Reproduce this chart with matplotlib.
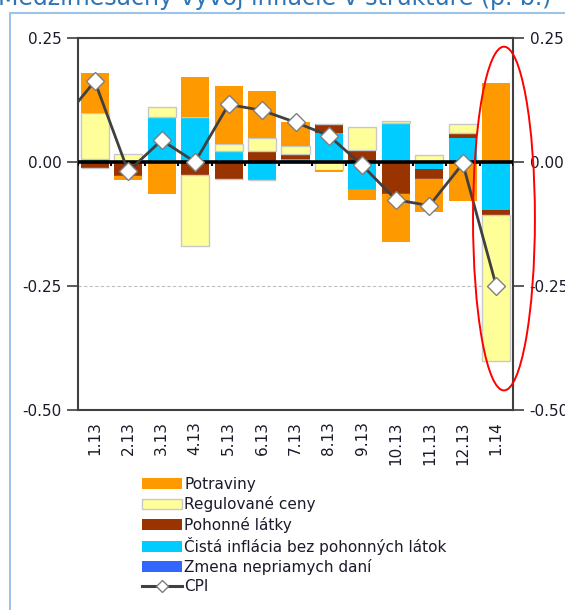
import numpy as np
import matplotlib
matplotlib.use("Agg")
import matplotlib.pyplot as plt
from matplotlib.patches import Ellipse, Rectangle
from matplotlib.lines import Line2D
from matplotlib.patches import Patch

plt.rcParams['font.family'] = ['DejaVu Sans']

months = ["1.13", "2.13", "3.13", "4.13", "5.13", "6.13", "7.13",
          "8.13", "9.13", "10.13", "11.13", "12.13", "1.14"]

# contributions (p. b.)
potraviny = [0.080, -0.008, -0.064, 0.080, 0.116, 0.095, 0.049,
             -0.005, -0.020, -0.098, -0.065, -0.078, 0.159]
regulovane = [0.092, 0.017, 0.019, -0.144, 0.014, 0.025, 0.016,
              -0.016, 0.046, 0.005, 0.014, 0.018, -0.295]
pohonne = [-0.013, -0.028, 0.000, -0.026, -0.034, 0.023, 0.009,
           0.018, 0.025, -0.064, -0.021, 0.009, -0.010]
cista = [0.007, 0.000, 0.091, 0.091, 0.023, -0.037, 0.007,
         0.058, -0.056, 0.078, -0.014, 0.049, -0.096]
zmena_dani = [0.0] * 13
cpi = [0.163, -0.019, 0.044, 0.000, 0.116, 0.104, 0.080,
       0.053, -0.007, -0.076, -0.088, -0.003, -0.250]
cpi_prev = 0.080  # 12.12, only its segment enters the plot

labels = ["Potraviny", "Regulované ceny", "Pohonné látky",
          "Čistá inflácia bez pohonných látok", "Zmena nepriamych daní", "CPI"]

C_ORANGE = "#FF9900"
C_YELLOW = "#FFFF99"
C_DRED = "#993300"
C_CYAN = "#00CCFF"
C_BLUE = "#3366FF"
C_LINE = "#404040"
TXT = "#1a1a2a"

W, H = 565, 610
fig = plt.figure(figsize=(W / 100, H / 100), dpi=100)
ax = fig.add_axes([78 / W, 1 - 410 / H, 435 / W, 372 / H])

x = np.arange(len(months))
bw = 0.84

# stacking order (bottom-up): Zmena, Cista, Pohonne, Regulovane, Potraviny
stack = [
    (zmena_dani, C_BLUE, "none"),
    (cista, C_CYAN, "none"),
    (pohonne, C_DRED, "none"),
    (regulovane, C_YELLOW, "#C8C8C8"),
    (potraviny, C_ORANGE, "none"),
]
pos_b = np.zeros(len(x))
neg_b = np.zeros(len(x))
for vals, col, ec in stack:
    v = np.array(vals, dtype=float)
    p = np.where(v > 0, v, 0)
    n = np.where(v < 0, v, 0)
    ax.bar(x, p, bw, bottom=pos_b, color=col, edgecolor=ec, linewidth=1.0, zorder=2)
    ax.bar(x, n, bw, bottom=neg_b, color=col, edgecolor=ec, linewidth=1.0, zorder=2)
    pos_b += p
    neg_b += n

# CPI line (with the entering segment from previous month)
ax.plot(np.concatenate([[-1], x]), [cpi_prev] + cpi, color=C_LINE, lw=2.0, zorder=4)
ax.plot(x, cpi, linestyle="none", marker="D", markersize=9, markerfacecolor="white",
        markeredgecolor="#7f7f7f", markeredgewidth=1.0, zorder=5)

# zero line with category ticks
ax.axhline(0, color="black", lw=2.6, zorder=3)
ax.vlines(np.arange(len(x) + 1) - 0.5, -0.008, 0, color="black", lw=1.5, zorder=3)

ax.set_xlim(-0.5, len(x) - 0.5)
ax.set_ylim(-0.5, 0.25)
ax.set_yticks([0.25, 0.0, -0.25, -0.5])
ax.set_yticklabels(["0.25", "0.00", "-0.25", "-0.50"])
ax.set_xticks(x)
ax.set_xticklabels(months, rotation=90)
ax.tick_params(axis="x", length=0, pad=8, labelsize=11, labelcolor=TXT)
ax.tick_params(axis="y", direction="out", length=8, width=1.2, color=C_LINE,
               labelsize=11, labelcolor=TXT, left=True, right=True,
               labelleft=True, labelright=True, pad=4)
for s in ax.spines.values():
    s.set_color(C_LINE)
    s.set_linewidth(1.5)
ax.yaxis.grid(True, color="#BFBFBF", linestyle=(0, (3, 2)), lw=0.8)
ax.set_axisbelow(True)

# red ellipse highlighting 1.14
ell = Ellipse((12.23, -0.114), 1.85, 0.693, fill=False, edgecolor="#FF0000",
              lw=1.4, clip_on=False, zorder=6)
ax.add_patch(ell)

# legend
handles = [
    Patch(facecolor=C_ORANGE, edgecolor="none"),
    Patch(facecolor=C_YELLOW, edgecolor="#C8C8C8", linewidth=1.0),
    Patch(facecolor=C_DRED, edgecolor="none"),
    Patch(facecolor=C_CYAN, edgecolor="none"),
    Patch(facecolor=C_BLUE, edgecolor="none"),
    Line2D([], [], color=C_LINE, lw=2.2, marker="D", markersize=6,
           markerfacecolor="white", markeredgecolor="#7f7f7f"),
]
leg = fig.legend(handles, labels, loc="upper left",
                 bbox_to_anchor=(142 / W, 1 - 477 / H), frameon=False,
                 fontsize=11, handlelength=2.6, handleheight=0.7,
                 handletextpad=0.15, labelspacing=0.28, borderpad=0,
                 borderaxespad=0)
for t in leg.get_texts():
    t.set_color(TXT)

# outer frame and cut-off title
fig.patches.append(Rectangle((10 / W, -0.05), 2.0, 1 - 13 / H + 0.05,
                             transform=fig.transFigure, fill=False,
                             edgecolor="#9DC3E6", lw=1.5))
fig.text(-0.004, 1 - 5.5 / H, "Medzimesačný vývoj inflácie v štruktúre (p. b.)",
         color="#2E75B6", fontsize=17, va="baseline", ha="left")

fig.savefig("out.png", dpi=100)
